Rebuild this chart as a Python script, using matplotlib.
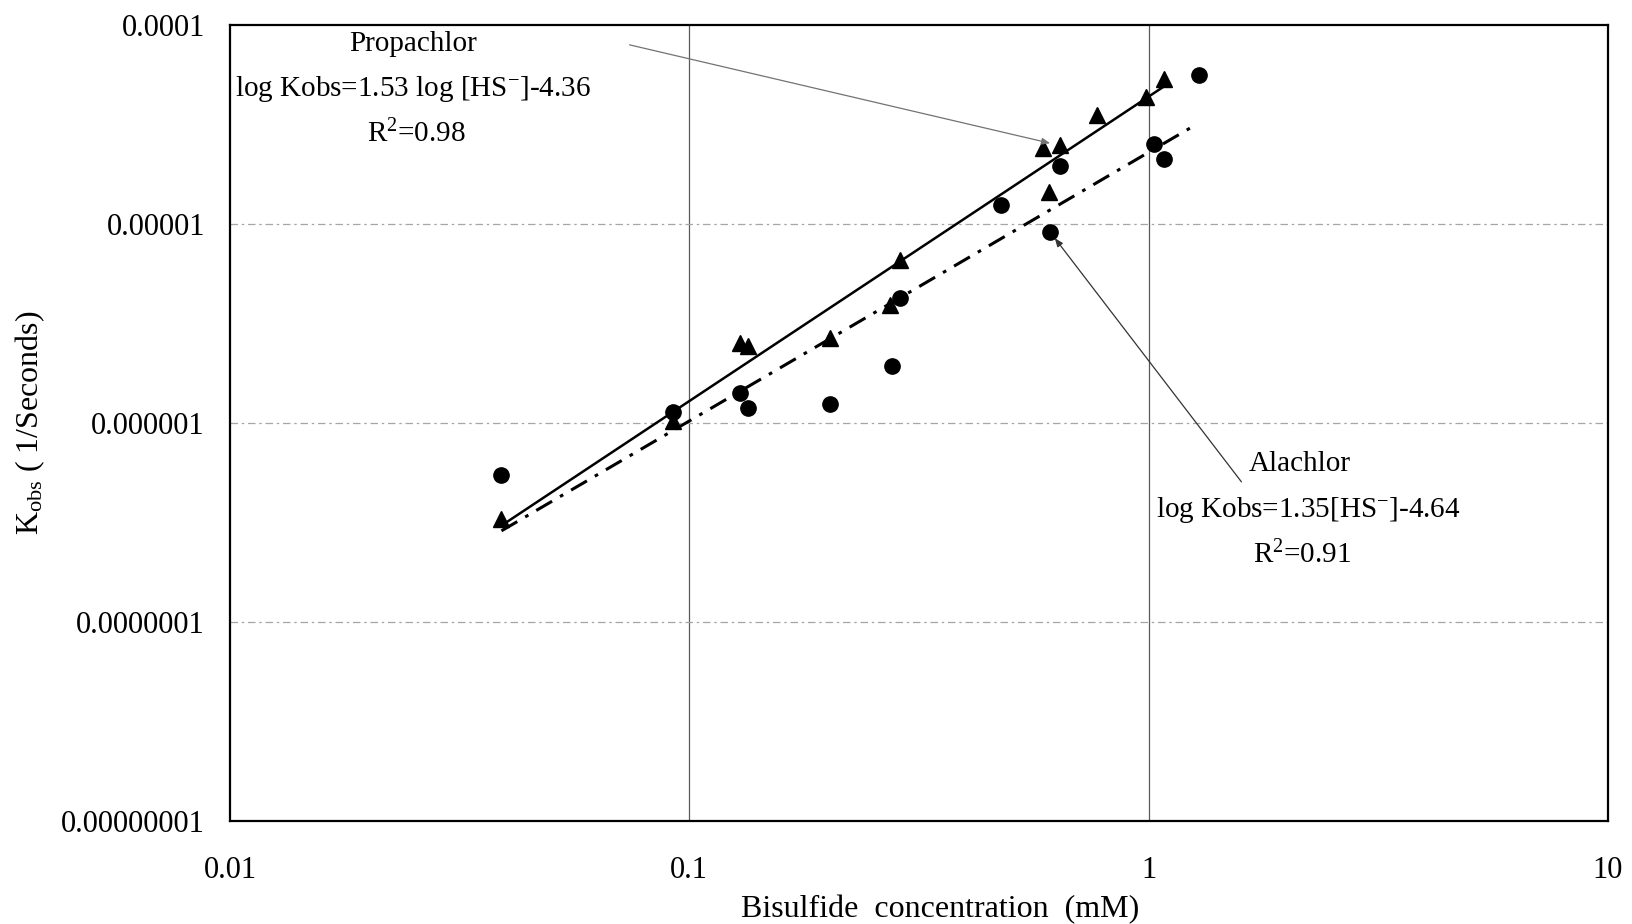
import matplotlib.pyplot as plt
import numpy as np
from matplotlib.ticker import FixedLocator, FixedFormatter, NullLocator

plt.rcParams['font.family'] = ['Liberation Serif', 'DejaVu Serif']
plt.rcParams['mathtext.fontset'] = 'custom'
plt.rcParams['mathtext.rm'] = 'Liberation Serif'
plt.rcParams['mathtext.it'] = 'Liberation Serif:italic'

# Propachlor rate constants (triangles)
prop_x = [0.039, 0.092, 0.129, 0.134, 0.202, 0.274, 0.288, 0.590, 0.606, 0.640, 0.770, 0.985, 1.08]
prop_k = [3.3e-7, 1.02e-6, 2.52e-6, 2.43e-6, 2.67e-6, 3.93e-6, 6.59e-6,
          2.41e-5, 1.45e-5, 2.48e-5, 3.52e-5, 4.35e-5, 5.38e-5]

# Alachlor rate constants (circles)
ala_x = [0.039, 0.092, 0.129, 0.134, 0.202, 0.276, 0.288, 0.476, 0.609, 0.642, 1.026, 1.08, 1.287]
ala_k = [5.5e-7, 1.14e-6, 1.41e-6, 1.19e-6, 1.24e-6, 1.93e-6, 4.27e-6,
         1.24e-5, 9.16e-6, 1.96e-5, 2.52e-5, 2.12e-5, 5.61e-5]

# log-log regression fits
prop_slope, prop_icept, prop_range = 1.53, -4.36, (0.039, 1.08)
ala_slope, ala_icept, ala_range = 1.35, -4.64, (0.039, 1.23)

x_ticks = [0.01, 0.1, 1, 10]
x_labels = ['0.01', '0.1', '1', '10']
y_ticks = [1e-8, 1e-7, 1e-6, 1e-5, 1e-4]
y_labels = ['0.00000001', '0.0000001', '0.000001', '0.00001', '0.0001']

fig = plt.figure(figsize=(16.32, 9.24), dpi=100)
ax = fig.add_axes([0.1409, 0.1115, 0.8444, 0.8615])
ax.set_xscale('log')
ax.set_yscale('log')
ax.set_xlim(0.01, 10)
ax.set_ylim(1e-8, 1e-4)

# grid: solid verticals, broken grey horizontals
for xv in [0.1, 1]:
    ax.axvline(xv, color='0.35', lw=0.9, zorder=1)
for yv in [1e-7, 1e-6, 1e-5]:
    ax.axhline(yv, color='0.65', lw=0.9, ls=(0, (6, 3, 2, 3)), zorder=1)

# fitted lines
xf = np.geomspace(*prop_range, 50)
ax.plot(xf, 10 ** (prop_slope * np.log10(xf) + prop_icept), color='black', lw=1.8, zorder=2)
xf = np.geomspace(*ala_range, 50)
ax.plot(xf, 10 ** (ala_slope * np.log10(xf) + ala_icept), color='black', lw=2.2,
        ls=(0, (6, 3, 1.2, 3)), zorder=2)

ax.plot(prop_x, prop_k, '^', color='black', ms=12, zorder=3)
ax.plot(ala_x, ala_k, 'o', color='black', ms=11, zorder=3)

ax.xaxis.set_major_locator(FixedLocator(x_ticks))
ax.xaxis.set_major_formatter(FixedFormatter(x_labels))
ax.yaxis.set_major_locator(FixedLocator(y_ticks))
ax.yaxis.set_major_formatter(FixedFormatter(y_labels))
ax.xaxis.set_minor_locator(NullLocator())
ax.yaxis.set_minor_locator(NullLocator())
ax.tick_params(axis='x', length=0, pad=25, labelsize=22)
ax.tick_params(axis='y', length=0, pad=18, labelsize=22)

for sp in ax.spines.values():
    sp.set_linewidth(1.6)

ax.set_xlabel('Bisulfide  concentration  (mM)', fontsize=23)
ax.xaxis.set_label_coords(0.515, -0.093)
ax.set_ylabel(r'K$_{\rm obs}$ ( 1/Seconds)', fontsize=23)
ax.yaxis.set_label_coords(-0.133, 0.5)

# equation labels
tfs = 21
ax.text(0.133, 0.9765, 'Propachlor', transform=ax.transAxes, ha='center', va='center', fontsize=tfs)
ax.text(0.133, 0.920, r'log Kobs=1.53 log [HS$^{-}$]-4.36', transform=ax.transAxes,
        ha='center', va='center', fontsize=tfs)
ax.text(0.135, 0.863, r'R$^{2}$=0.98', transform=ax.transAxes, ha='center', va='center', fontsize=tfs)

ax.text(0.776, 0.448, 'Alachlor', transform=ax.transAxes, ha='center', va='center', fontsize=tfs)
ax.text(0.7825, 0.391, r'log Kobs=1.35[HS$^{-}$]-4.64', transform=ax.transAxes,
        ha='center', va='center', fontsize=tfs)
ax.text(0.778, 0.3346, r'R$^{2}$=0.91', transform=ax.transAxes, ha='center', va='center', fontsize=tfs)

ax.annotate('', xy=(prop_x[9], prop_k[9]), xycoords='data',
            xytext=(0.290, 0.975), textcoords='axes fraction',
            arrowprops=dict(arrowstyle='-|>,head_length=0.5,head_width=0.2', color='0.45',
                            lw=0.9, shrinkA=0, shrinkB=7))
ax.annotate('', xy=(ala_x[8], ala_k[8]), xycoords='data',
            xytext=(0.734, 0.426), textcoords='axes fraction',
            arrowprops=dict(arrowstyle='-|>,head_length=0.5,head_width=0.2', color='0.2',
                            lw=0.9, shrinkA=0, shrinkB=6))

fig.savefig('out.png', dpi=100)
